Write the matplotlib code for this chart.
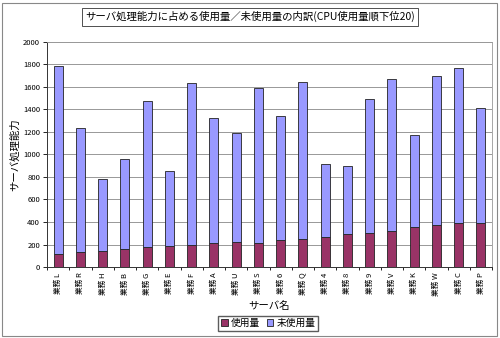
import matplotlib
matplotlib.use("Agg")
import matplotlib.pyplot as plt
from matplotlib.patches import Rectangle
import numpy as np

plt.rcParams['font.family'] = ['Noto Sans CJK JP', 'DejaVu Sans']

# data
servers = ["L", "R", "H", "B", "G", "E", "F", "A", "U", "S",
           "6", "Q", "4", "8", "9", "V", "K", "W", "C", "P"]
used = [112, 130, 138, 159, 174, 185, 194, 212, 220, 217,
        241, 250, 270, 294, 303, 323, 352, 373, 388, 394]
total = [1782, 1235, 785, 962, 1477, 855, 1638, 1324, 1194, 1591,
         1344, 1641, 912, 894, 1495, 1667, 1176, 1697, 1765, 1409]
unused = [t - u for t, u in zip(total, used)]
labels = ["業務 " + s for s in servers]

title = "サーバ処理能力に占める使用量／未使用量の内訳(CPU使用量順下位20)"

fig = plt.figure(figsize=(5, 3.38), dpi=100)
ax = fig.add_axes([0.094, 0.21, 0.89, 0.666])

x = np.arange(len(servers))
b1 = ax.bar(x, used, width=0.4, color="#993366", edgecolor="#222222", linewidth=0.6, label="使用量")
b2 = ax.bar(x, unused, width=0.4, bottom=used, color="#9999FF", edgecolor="#222222",
            linewidth=0.6, label="未使用量")

ax.set_xlim(-0.5, len(servers) - 0.5)
ax.set_ylim(0, 2000)
ax.set_yticks(range(0, 2001, 200))
ax.tick_params(axis="y", labelsize=5.5, length=3, width=0.6, pad=2)
ax.set_xticks(x)
ax.set_xticklabels(labels, rotation=90, fontsize=5.5)
ax.tick_params(axis="x", length=0, pad=4)
ax.set_xticks(np.arange(-0.5, len(servers), 1), minor=True)
ax.tick_params(axis="x", which="minor", length=2.5, width=0.6)

ax.yaxis.grid(True, color="#888888", linewidth=0.6)
ax.set_axisbelow(True)
for side in ["top", "right"]:
    ax.spines[side].set_color("#999999")
    ax.spines[side].set_linewidth(0.6)
for side in ["left", "bottom"]:
    ax.spines[side].set_color("#333333")
    ax.spines[side].set_linewidth(0.7)

ax.set_ylabel("サーバ処理能力", fontsize=7.5, labelpad=2)
ax.set_xlabel("サーバ名", fontsize=7.5, labelpad=3)

fig.text(0.5, 0.95, title, ha="center", va="center", fontsize=7.5,
         bbox=dict(boxstyle="square,pad=0.3", facecolor="white", edgecolor="#333333", linewidth=0.6))

fig.legend(handles=[b1, b2], loc="center", bbox_to_anchor=(0.536, 0.044), ncol=2,
           fontsize=7, frameon=True, fancybox=False, edgecolor="#333333",
           handlelength=0.7, handleheight=0.7, handletextpad=0.3, columnspacing=0.7,
           borderpad=0.25, borderaxespad=0)

fig.patches.append(Rectangle((0.004, 0.006), 0.99, 0.985, transform=fig.transFigure,
                             fill=False, edgecolor="#888888", linewidth=0.8))

fig.savefig("out.png", dpi=100)
